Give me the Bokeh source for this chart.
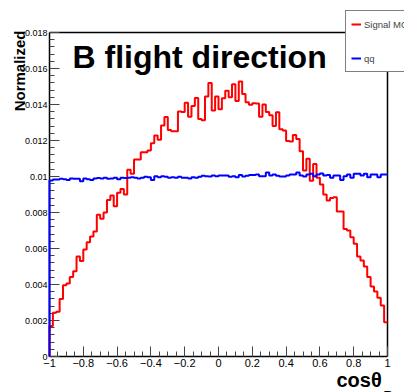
import numpy as np
from bokeh.plotting import figure
from bokeh.models import Range1d, FixedTicker, Label, Legend, LegendItem
from bokeh.embed import file_html
from bokeh.resources import INLINE

# ---- data ----
red_signal = [
    0.00169, 0.00243, 0.00248, 0.00320, 0.00396, 0.00406, 0.00441, 0.00474, 0.00556, 0.00530,
    0.00594, 0.00635, 0.00667, 0.00694, 0.00787, 0.00765, 0.00800, 0.00870, 0.00894, 0.00835,
    0.00910, 0.00931, 0.00900, 0.01037, 0.01015, 0.01094, 0.01094, 0.01135, 0.01135, 0.01144,
    0.01185, 0.01228, 0.01204, 0.01283, 0.01330, 0.01259, 0.01252, 0.01252, 0.01361, 0.01359,
    0.01410, 0.01332, 0.01391, 0.01436, 0.01320, 0.01313, 0.01445, 0.01519, 0.01367, 0.01445,
    0.01373, 0.01435, 0.01476, 0.01440, 0.01513, 0.01420, 0.01528, 0.01459, 0.01413, 0.01399,
    0.01407, 0.01405, 0.01332, 0.01400, 0.01358, 0.01340, 0.01280, 0.01357, 0.01262, 0.01255,
    0.01197, 0.01195, 0.01230, 0.01208, 0.01140, 0.01033, 0.01098, 0.00976, 0.01070, 0.00993,
    0.00955, 0.00900, 0.00867, 0.00880, 0.00885, 0.00806, 0.00806, 0.00709, 0.00700, 0.00663,
    0.00626, 0.00556, 0.00533, 0.00500, 0.00441, 0.00389, 0.00361, 0.00326, 0.00283, 0.00190,
]
blue_qq = [
    0.00978, 0.00983, 0.00983, 0.00987, 0.00985, 0.00980, 0.00989, 0.00987, 0.00987, 0.00974,
    0.00989, 0.00985, 0.00981, 0.00989, 0.00991, 0.00989, 0.00993, 0.00987, 0.00989, 0.00993,
    0.00985, 0.00993, 0.00991, 0.00993, 0.00996, 0.00993, 0.00989, 0.00993, 0.00998, 0.00996,
    0.00981, 0.01002, 0.00996, 0.01002, 0.00998, 0.00993, 0.00996, 0.00993, 0.00998, 0.00993,
    0.00993, 0.00989, 0.00996, 0.00993, 0.00998, 0.01004, 0.01002, 0.01000, 0.01006, 0.01002,
    0.01006, 0.01006, 0.01006, 0.00998, 0.01002, 0.00996, 0.01008, 0.01000, 0.01004, 0.01008,
    0.01008, 0.01011, 0.01002, 0.01002, 0.01022, 0.01006, 0.01011, 0.01004, 0.01000, 0.01000,
    0.01006, 0.01011, 0.01011, 0.01022, 0.01006, 0.01000, 0.01011, 0.01015, 0.01002, 0.01011,
    0.01017, 0.01006, 0.01009, 0.00993, 0.01006, 0.01006, 0.00981, 0.01002, 0.01011, 0.00993,
    0.01015, 0.01015, 0.01006, 0.01015, 0.00996, 0.01011, 0.01011, 0.00996, 0.01011, 0.01011,
]
x_ticks = [-1, -0.8, -0.6, -0.4, -0.2, 0, 0.2, 0.4, 0.6, 0.8, 1]
x_tick_labels = ["\u22121", "\u22120.8", "\u22120.6", "\u22120.4", "\u22120.2", "0",
                 "0.2", "0.4", "0.6", "0.8", "1"]
y_ticks = [0, 0.002, 0.004, 0.006, 0.008, 0.01, 0.012, 0.014, 0.016, 0.018]
y_tick_labels = ["0", "0.002", "0.004", "0.006", "0.008", "0.01", "0.012", "0.014", "0.016", "0.018"]
series_names = ["Signal MC", "qq"]
title_text = "B flight direction"
y_title = "Normalized"
x_title = "cos\u03b8"
x_title_sub = "B"

X_MIN, X_MAX = -1.0, 1.0
Y_MIN, Y_MAX = 0.0, 0.018

# ---- layout (pixels) ----
W, H = 404, 392
FL, FR, FT, FB = 49, 387, 32, 356   # histogram frame edges in canvas pixels
FONT = "Liberation Sans"

sx_per = (FR - FL) / (X_MAX - X_MIN)
sy_per = (FB - FT) / (Y_MAX - Y_MIN)


def px_x(px):
    return X_MIN + (px - FL) / sx_per


def px_y(py):
    return Y_MIN + (FB - py) / sy_per


edges = np.linspace(X_MIN, X_MAX, len(red_signal) + 1)


def step_xy(vals):
    xs = [edges[0]]
    ys = [0.0]
    for i, v in enumerate(vals):
        xs += [edges[i], edges[i + 1]]
        ys += [v, v]
    return xs, ys


# The plotting frame spans the whole canvas; axes are pinned at x=-1 / y=0.
p = figure(width=W, height=H,
           x_range=Range1d(px_x(0), px_x(W)), y_range=Range1d(px_y(H), px_y(0)),
           output_backend="svg", toolbar_location=None,
           min_border_left=0, min_border_right=0, min_border_top=0, min_border_bottom=0)
p.background_fill_color = "white"
p.border_fill_color = "white"
p.outline_line_color = None
p.xgrid.visible = False
p.ygrid.visible = False

# frame top and right lines
p.line([X_MIN, X_MAX], [Y_MAX, Y_MAX], line_color="black", line_width=1.5)
p.line([X_MAX, X_MAX], [Y_MIN, Y_MAX], line_color="black", line_width=1.5)

xr, yr = step_xy(red_signal)
xb, yb = step_xy(blue_qq)
r_red = p.line(xr, yr, line_color="#ff0000", line_width=2, level="overlay")
r_blue = p.line(xb, yb, line_color="#0000ff", line_width=2, level="overlay")

minor_x = [round(v, 4) for v in np.arange(X_MIN, X_MAX + 1e-9, 0.05)]
minor_y = [round(v, 6) for v in np.arange(Y_MIN, Y_MAX + 1e-9, 0.0004)]

xa = p.xaxis[0]
xa.fixed_location = Y_MIN
xa.bounds = (X_MIN, X_MAX)
xa.ticker = FixedTicker(ticks=x_ticks, minor_ticks=minor_x)
xa.major_label_overrides = {t: l for t, l in zip(x_ticks, x_tick_labels)}
ya = p.yaxis[0]
ya.fixed_location = X_MIN
ya.bounds = (Y_MIN, Y_MAX)
ya.ticker = FixedTicker(ticks=y_ticks, minor_ticks=minor_y)
ya.major_label_overrides = {t: l for t, l in zip(y_ticks, y_tick_labels)}

for ax, fs in ((xa, "11px"), (ya, "9px")):
    ax.axis_line_color = "black"
    ax.axis_line_width = 1.5
    ax.major_tick_in = 10
    ax.major_tick_out = 0
    ax.minor_tick_in = 5
    ax.minor_tick_out = 0
    ax.major_tick_line_color = "#444444"
    ax.minor_tick_line_color = "#444444"
    ax.major_label_text_font = FONT
    ax.major_label_text_font_size = fs
    ax.major_label_text_color = "black"
    ax.major_label_standoff = 2

# title
p.add_layout(Label(x=px_x(72), y=px_y(56), text=title_text, text_font=FONT,
                   text_font_size="32px", text_font_style="bold", text_color="black",
                   text_align="left", text_baseline="middle"))
# y title (rotated)
p.add_layout(Label(x=px_x(19), y=px_y(30), text=y_title, angle=np.pi / 2, text_font=FONT,
                   text_font_size="15px", text_font_style="bold", text_color="black",
                   text_align="right", text_baseline="middle"))
# x title
p.add_layout(Label(x=px_x(336), y=px_y(379), text=x_title, text_font=FONT,
                   text_font_size="20px", text_font_style="bold", text_color="black",
                   text_align="left", text_baseline="middle"))
p.add_layout(Label(x=px_x(383), y=px_y(395), text=x_title_sub, text_font=FONT,
                   text_font_size="13px", text_font_style="bold", text_color="black",
                   text_align="left", text_baseline="middle"))

legend = Legend(items=[LegendItem(label=series_names[0], renderers=[r_red]),
                       LegendItem(label=series_names[1], renderers=[r_blue])],
                location=(345, H - 72), orientation="vertical",
                border_line_color="black", border_line_width=1,
                background_fill_color="white", background_fill_alpha=1.0,
                label_text_font=FONT, label_text_font_size="9.5px",
                glyph_width=10, glyph_height=16, label_height=16,
                spacing=18, padding=5, margin=0, label_standoff=3)
p.add_layout(legend)

open("out.html", "w").write(file_html(p, INLINE))
